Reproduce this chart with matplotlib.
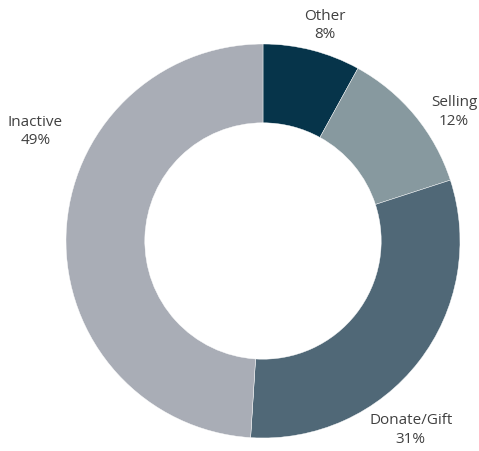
import matplotlib.pyplot as plt

categories = ["Other", "Selling", "Donate/Gift", "Inactive"]
shares = [8, 12, 31, 49]
colors = ["#06344a", "#87999f", "#506877", "#a9adb6"]

# label placement (data units, radius = 1)
label_xy = [(0.315, 1.10), (0.97, 0.66), (0.75, -0.955), (-1.155, 0.56)]

fig = plt.figure(figsize=(4.79, 4.52), dpi=100)
ax = fig.add_axes([0, 0, 1, 1])

cx, cy, R = 263, 242, 197
W, H = 479, 452

ax.pie(shares, colors=colors, startangle=90, counterclock=False, radius=1,
       wedgeprops=dict(width=0.4, edgecolor="white", linewidth=0.3))

for name, val, (x, y) in zip(categories, shares, label_xy):
    ax.text(x, y, f"{name}\n{val}%", ha="center", va="center",
            fontsize=11, family="Open Sans", color="#404040", linespacing=1.3)

ax.set_xlim(-cx / R, (W - cx) / R)
ax.set_ylim(-(H - cy) / R, cy / R)
ax.set_aspect("auto")
ax.axis("off")

fig.savefig("out.png", dpi=100)
